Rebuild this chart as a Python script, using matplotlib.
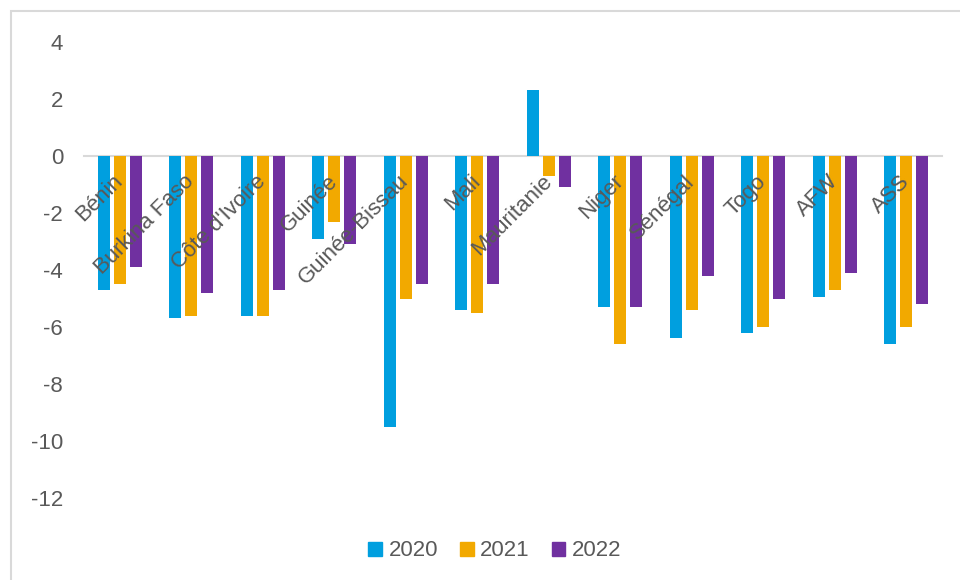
import numpy as np
import matplotlib.pyplot as plt
from matplotlib.patches import Rectangle, Patch

plt.rcParams['font.family'] = ['Liberation Sans', 'DejaVu Sans']
plt.rcParams['axes.unicode_minus'] = False

# solde budgetaire (% du PIB)
countries = ['Bénin', 'Burkina Faso', "Côte d'Ivoire", 'Guinée', 'Guinée-Bissau', 'Mali',
             'Mauritanie', 'Niger', 'Sénégal', 'Togo', 'AFW', 'ASS']
years = ['2020', '2021', '2022']
v2020 = [-4.7, -5.7, -5.6, -2.9, -9.5, -5.4, 2.3, -5.3, -6.4, -6.2, -4.95, -6.6]
v2021 = [-4.5, -5.6, -5.6, -2.3, -5.0, -5.5, -0.7, -6.6, -5.4, -6.0, -4.7, -6.0]
v2022 = [-3.9, -4.8, -4.7, -3.1, -4.5, -4.5, -1.1, -5.3, -4.2, -5.0, -4.1, -5.2]
colors = ['#009FDF', '#F2A900', '#7030A0']

fig = plt.figure(figsize=(9.6, 5.8), dpi=100)
ax = fig.add_axes([84/960, 82/580, (942-84)/960, (498-42)/580])

# spine position first, it resets the tick setup
for s in ['top', 'right', 'left']:
    ax.spines[s].set_visible(False)
ax.spines['bottom'].set_position(('data', 0))
ax.spines['bottom'].set_color('#d9d9d9')
ax.spines['bottom'].set_linewidth(1.5)
ax.spines['bottom'].set_zorder(0.5)

x = np.arange(len(countries))
w = 0.168
step = 0.224
for k, vals in enumerate([v2020, v2021, v2022]):
    ax.bar(x + (k-1)*step, vals, width=w, color=colors[k], zorder=1)

ax.set_xlim(-0.5, len(countries)-0.5)
ax.set_ylim(-12, 4)
ax.set_yticks(range(-12, 5, 2))
ax.set_xticks(x)
ax.set_xticklabels(countries, rotation=45, ha='right', va='center', rotation_mode='anchor')
ax.tick_params(axis='y', length=0, pad=15, labelsize=16, labelcolor='#595959')
ax.tick_params(axis='x', length=0, pad=16, labelsize=16, labelcolor='#595959')
ax.xaxis.set_zorder(5)

handles = [Patch(color=c, label=y) for c, y in zip(colors, years)]
fig.legend(handles=handles, loc='center', bbox_to_anchor=(495/960, 1-551/580), ncol=3,
           frameon=False, fontsize=16, handlelength=0.6, handleheight=0.6,
           handletextpad=0.3, columnspacing=1.0, labelcolor='#595959')

fig.patches.append(Rectangle((11/960, -0.1), 1.2, 1.1 - 11/580, transform=fig.transFigure,
                             fill=False, edgecolor='#d9d9d9', linewidth=1.5))

fig.savefig('out.png', dpi=100)
